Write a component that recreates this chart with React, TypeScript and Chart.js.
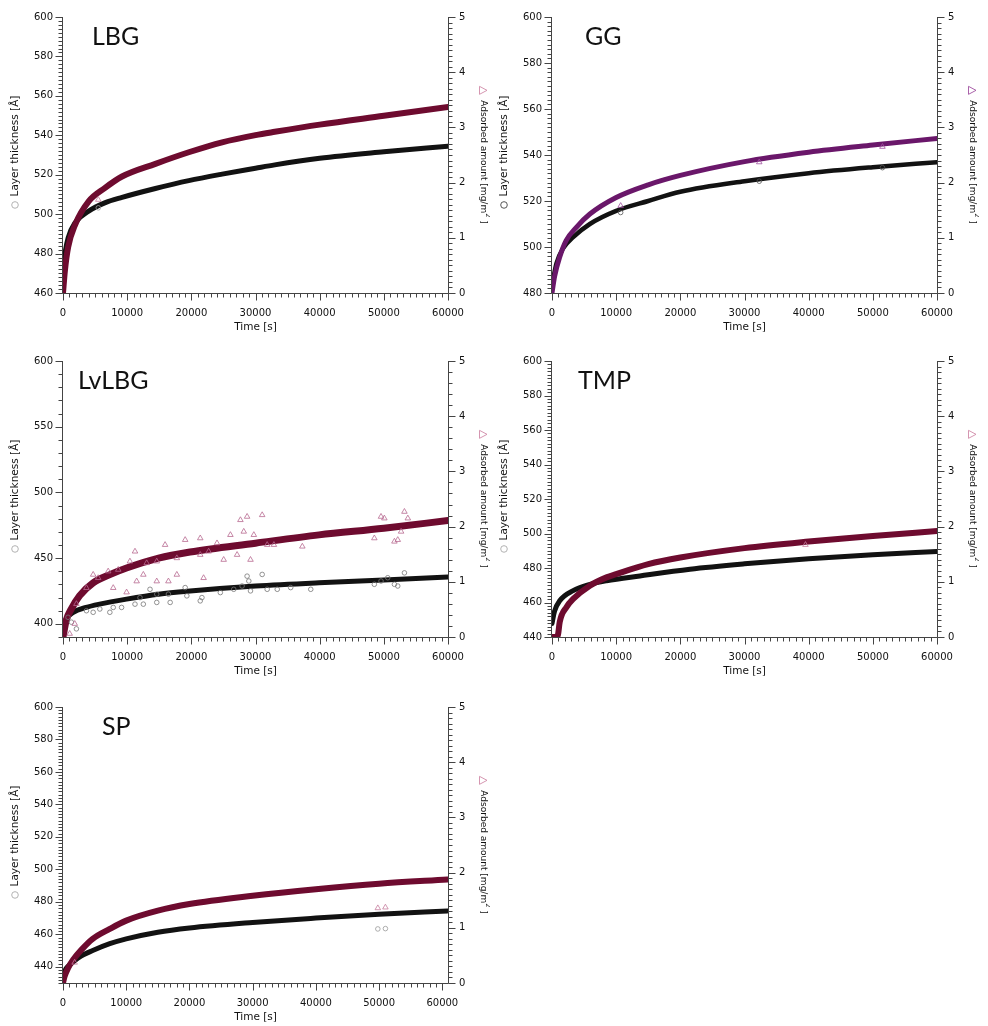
import React, { useEffect, useRef } from "react";
import { Chart, registerables } from "chart.js";
Chart.register(...registerables);

const timeTickLabels = [0, 10000, 20000, 30000, 40000, 50000, 60000];

// ---------- LBG ----------
const lbgThickTime = [0, 300, 800, 1900, 4000, 6500, 9200, 14400, 19600, 24800, 30000, 33000, 40000, 50000, 60000];
const lbgThickness = [470.7, 479.8, 488, 495.7, 501.5, 505.7, 508.5, 513, 517, 520.3, 523.3, 525, 528.3, 531.6, 534.5];
const lbgAdsTime = [0, 300, 800, 1900, 4000, 6500, 9200, 14400, 19600, 24800, 30000, 33000, 40000, 50000, 60000];
const lbgAdsorbed = [0, 0.41, 0.83, 1.24, 1.66, 1.9, 2.11, 2.34, 2.55, 2.73, 2.86, 2.92, 3.05, 3.21, 3.37];
const lbgCircTime = [5500];
const lbgCircThick = [503.2];
const lbgTriTime = [5500];
const lbgTriAds = [1.69];

// ---------- GG ----------
const ggThickTime = [0, 700, 1700, 3300, 5900, 10000, 15000, 20000, 30000, 40000, 50000, 60000];
const ggThickness = [483.6, 492.9, 499.3, 504.3, 510, 515.7, 520, 524, 528.6, 532.1, 534.7, 536.9];
const ggAdsTime = [0, 400, 1200, 2200, 3800, 5900, 10000, 15000, 20000, 30000, 40000, 50000, 60000];
const ggAdsorbed = [0, 0.3, 0.65, 0.95, 1.19, 1.43, 1.73, 1.96, 2.13, 2.38, 2.55, 2.68, 2.8];
const ggCircTime = [10700, 32300, 51500];
const ggCircThick = [515, 528.6, 534.5];
const ggTriTime = [10700, 32300, 51500];
const ggTriAds = [1.58, 2.37, 2.65];

// ---------- LvLBG ----------
const lvThickTime = [0, 500, 1600, 3600, 5700, 9900, 14900, 19800, 30000, 39900, 50000, 60000];
const lvThickness = [397.5, 403.8, 408.8, 412.5, 415, 418.8, 422.6, 425, 428.8, 431.3, 433.3, 435.6];
const lvAdsTime = [0, 500, 1300, 2600, 4700, 7300, 9900, 14900, 19800, 30000, 39900, 50000, 60000];
const lvAdsorbed = [0, 0.3, 0.51, 0.75, 0.98, 1.13, 1.25, 1.43, 1.54, 1.7, 1.85, 1.97, 2.11];
const lvTriTime = [4700, 5480, 7040, 8610, 11220, 10430, 12520, 14610, 15910, 17740, 19040, 21390, 21390, 22700, 24000, 26090, 27650, 28690, 31040, 28170, 29740, 31820, 25040, 27130, 29220, 32870, 37300, 49560, 50080, 48520, 52170, 52690, 53210, 53740, 51650, 14610, 13040, 11480, 7830, 3650, 2090, 1040, 1830, 21910, 17740, 16430, 9910];
const lvTriAds = [1.13, 1.07, 1.19, 1.22, 1.55, 1.37, 1.13, 1.01, 1.67, 1.43, 1.76, 1.79, 1.49, 1.55, 1.7, 1.85, 2.12, 2.18, 2.21, 1.91, 1.85, 1.67, 1.4, 1.49, 1.4, 1.67, 1.64, 2.18, 2.15, 1.79, 1.76, 1.91, 2.27, 2.15, 1.73, 1.37, 1.34, 1.01, 0.89, 0.89, 0.6, 0.06, 0.24, 1.07, 1.13, 1.01, 0.81];
const lvCircTime = [2090, 3650, 5740, 7830, 9130, 11220, 12520, 14610, 16700, 16430, 19040, 19300, 21390, 21650, 24520, 26610, 27910, 28690, 28960, 31040, 31820, 29220, 33390, 35480, 38610, 48520, 49560, 51650, 53210, 52170, 50610, 14610, 13560, 12000, 7300, 4700, 780, 1300];
const lvCircThick = [396.2, 410, 411.3, 412.5, 412.5, 415, 415, 416.3, 416.3, 422.6, 427.6, 421.3, 417.5, 420, 423.8, 426.3, 428.8, 436.3, 432.6, 437.6, 426.3, 425.1, 426.3, 427.6, 426.3, 430.1, 432.6, 430.1, 438.8, 428.8, 435.1, 422.6, 426.3, 420, 408.8, 408.8, 405, 401.3];

// ---------- TMP ----------
const tmpThickTime = [0, 400, 1200, 3300, 5900, 8500, 13700, 21500, 30000, 40000, 50000, 60000];
const tmpThickness = [447.8, 455, 461, 466.9, 470.5, 472.6, 475.4, 479.3, 482.4, 485.4, 487.7, 489.6];
const tmpAdsTime = [0, 700, 950, 1200, 2250, 3300, 5900, 8500, 10000, 15000, 20000, 30000, 40000, 50000, 60000];
const tmpAdsorbed = [0, 0, 0.05, 0.27, 0.54, 0.69, 0.93, 1.08, 1.14, 1.32, 1.44, 1.61, 1.73, 1.83, 1.92];
const tmpCircTime: number[] = [];
const tmpCircThick: number[] = [];
const tmpTriTime = [39500];
const tmpTriAds = [1.67];

// ---------- SP ----------
const spThickTime = [0, 500, 1300, 2600, 4700, 7400, 10000, 15000, 20000, 30000, 40000, 50000, 60800];
const spThickness = [435, 439, 442, 446, 450, 454.2, 457.2, 461.3, 463.9, 467.3, 470, 472.4, 474.4];
const spAdsTime = [0, 250, 800, 1600, 2900, 4700, 7400, 10000, 15000, 20000, 30000, 40000, 50000, 60800];
const spAdsorbed = [0, 0.12, 0.27, 0.42, 0.6, 0.8, 0.98, 1.13, 1.31, 1.43, 1.58, 1.7, 1.8, 1.875];
const spTriTime = [1840, 49800, 51000];
const spTriAds = [0.37, 1.357, 1.37];
const spCircTime = [49800, 51000];
const spCircThick = [463.3, 463.5];

const panelNames = ["LBG", "GG", "LvLBG", "TMP", "SP"];

type Spec = {
  name: string; left: number; top: number; height: number; titleX: number;
  yMin: number; yMax: number; yMajor: number; yMinor: number; rMinor: number; xMax: number;
  thickT: number[]; thickV: number[]; adsT: number[]; adsV: number[];
  circT: number[]; circV: number[]; triT: number[]; triV: number[];
  band: string; bandW: number; blackW: number; tri: string; circ: string; labelCirc: string; labelTri: string;
};

const MAROON = "#6e0b2f";
const specs: Spec[] = [
  { name: panelNames[0], left: 0, top: 0, height: 340, titleX: 92, yMin: 460, yMax: 600, yMajor: 20, yMinor: 2, rMinor: 0.1, xMax: 60000,
    thickT: lbgThickTime, thickV: lbgThickness, adsT: lbgAdsTime, adsV: lbgAdsorbed, circT: lbgCircTime, circV: lbgCircThick, triT: lbgTriTime, triV: lbgTriAds,
    band: MAROON, bandW: 6, blackW: 5, tri: "#c77e9e", circ: "#999", labelCirc: "#aaa", labelTri: "#d08aa8" },
  { name: panelNames[1], left: 489, top: 0, height: 340, titleX: 96, yMin: 480, yMax: 600, yMajor: 20, yMinor: 2, rMinor: 0.1, xMax: 60000,
    thickT: ggThickTime, thickV: ggThickness, adsT: ggAdsTime, adsV: ggAdsorbed, circT: ggCircTime, circV: ggCircThick, triT: ggTriTime, triV: ggTriAds,
    band: "#6a176a", bandW: 5, blackW: 4.5, tri: "#a050a0", circ: "#555", labelCirc: "#444", labelTri: "#a050a0" },
  { name: panelNames[2], left: 0, top: 344, height: 340, titleX: 78, yMin: 390, yMax: 600, yMajor: 50, yMinor: 10, rMinor: 0.2, xMax: 60000,
    thickT: lvThickTime, thickV: lvThickness, adsT: lvAdsTime, adsV: lvAdsorbed, circT: lvCircTime, circV: lvCircThick, triT: lvTriTime, triV: lvTriAds,
    band: MAROON, bandW: 7, blackW: 5, tri: "#b86a90", circ: "#777", labelCirc: "#aaa", labelTri: "#d08aa8" },
  { name: panelNames[3], left: 489, top: 344, height: 340, titleX: 89, yMin: 440, yMax: 600, yMajor: 20, yMinor: 2, rMinor: 0.1, xMax: 60000,
    thickT: tmpThickTime, thickV: tmpThickness, adsT: tmpAdsTime, adsV: tmpAdsorbed, circT: tmpCircTime, circV: tmpCircThick, triT: tmpTriTime, triV: tmpTriAds,
    band: MAROON, bandW: 6, blackW: 5, tri: "#c77e9e", circ: "#999", labelCirc: "#aaa", labelTri: "#d08aa8" },
  { name: panelNames[4], left: 0, top: 690, height: 336, titleX: 102, yMin: 430, yMax: 600, yMajor: 20, yMinor: 2, rMinor: 0.1, xMax: 60900,
    thickT: spThickTime, thickV: spThickness, adsT: spAdsTime, adsV: spAdsorbed, circT: spCircTime, circV: spCircThick, triT: spTriTime, triV: spTriAds,
    band: MAROON, bandW: 6, blackW: 5, tri: "#c77e9e", circ: "#999", labelCirc: "#aaa", labelTri: "#d08aa8" },
];

const FONT = '"DejaVu Sans", sans-serif';
const AX = "#444";

function makePlugin(s: Spec) {
  return {
    id: "customAxes" + s.name,
    afterDraw(chart: any) {
      const ctx: CanvasRenderingContext2D = chart.ctx;
      const a = chart.chartArea;
      const sx = chart.scales.x, sl = chart.scales.yL, sr = chart.scales.yR;
      ctx.save();
      ctx.strokeStyle = AX;
      ctx.lineWidth = 1;
      const L = Math.round(a.left) - 0.5, R = Math.round(a.right) + 0.5, B = Math.round(a.bottom) + 0.5, T = Math.round(a.top);
      ctx.beginPath();
      ctx.moveTo(L, T); ctx.lineTo(L, B); ctx.lineTo(R, B); ctx.lineTo(R, T);
      ctx.stroke();
      const drawTicks = (scale: any, minor: number, major: number, kind: string) => {
        const n0 = Math.ceil(scale.min / minor - 1e-9), n1 = Math.floor(scale.max / minor + 1e-9);
        ctx.beginPath();
        for (let n = n0; n <= n1; n++) {
          const v = n * minor;
          const isMajor = Math.abs(v / major - Math.round(v / major)) < 1e-6;
          const len = isMajor ? 7 : 4;
          const p = Math.round(scale.getPixelForValue(v)) + 0.5;
          if (kind === "x") { ctx.moveTo(p, B); ctx.lineTo(p, B + len); }
          else if (kind === "l") { ctx.moveTo(L, p); ctx.lineTo(L - len, p); }
          else { ctx.moveTo(R, p); ctx.lineTo(R + len, p); }
        }
        ctx.stroke();
      };
      drawTicks(sx, 1000, 10000, "x");
      drawTicks(sl, s.yMinor, s.yMajor, "l");
      drawTicks(sr, s.rMinor, 1, "r");

      ctx.fillStyle = "#111";
      const f = "10.5px " + FONT;
      ctx.font = f;
      ctx.textAlign = "center";
      ctx.textBaseline = "middle";
      ctx.fillText("Time [s]", (a.left + a.right) / 2, 327);

      const cy = (a.top + a.bottom) / 2;
      ctx.save();
      ctx.translate(15, cy - 3);
      ctx.rotate(-Math.PI / 2);
      const lt = "Layer thickness [Å]";
      const lw = ctx.measureText(lt).width;
      const cw = 7, gap = 5;
      const tot = cw + gap + lw;
      const x0 = -tot / 2;
      ctx.strokeStyle = s.labelCirc;
      ctx.lineWidth = 0.9;
      ctx.beginPath();
      ctx.arc(x0 + cw / 2, 0, 3.3, 0, Math.PI * 2);
      ctx.stroke();
      ctx.textAlign = "left";
      ctx.fillText(lt, x0 + cw + gap, 0);
      ctx.restore();

      ctx.save();
      ctx.translate(483, cy);
      ctx.rotate(Math.PI / 2);
      const fr = "9px " + FONT;
      ctx.font = fr;
      const m1 = "Adsorbed amount [mg/m";
      const w1 = ctx.measureText(m1).width;
      const small = "6.5px " + FONT;
      ctx.font = small;
      const w2 = ctx.measureText("2").width;
      ctx.font = fr;
      const w3 = ctx.measureText(" ]").width;
      const tw = 8, g2 = 6;
      const tot2 = tw + g2 + w1 + w2 + w3;
      const r0 = -tot2 / 2;
      ctx.strokeStyle = s.labelTri;
      ctx.lineWidth = 0.9;
      ctx.beginPath();
      ctx.moveTo(r0, 3.5); ctx.lineTo(r0 + tw, 3.5); ctx.lineTo(r0 + tw / 2, -4); ctx.closePath();
      ctx.stroke();
      ctx.textAlign = "left";
      ctx.textBaseline = "middle";
      ctx.fillText(m1, r0 + tw + g2, 0);
      ctx.font = small;
      ctx.fillText("2", r0 + tw + g2 + w1, -5);
      ctx.font = fr;
      ctx.fillText(" ]", r0 + tw + g2 + w1 + w2, 0);
      ctx.restore();

      ctx.font = '25px Lato, "Noto Sans", sans-serif';
      ctx.textAlign = "left";
      ctx.textBaseline = "alphabetic";
      ctx.fillStyle = "#111";
      ctx.fillText(s.name, s.titleX, 45);
      ctx.restore();
    },
  };
}

const pts = (t: number[], v: number[]) => t.map((x, i) => ({ x, y: v[i] }));

function Panel({ s }: { s: Spec }) {
  const ref = useRef<HTMLCanvasElement>(null);
  useEffect(() => {
    const tickFont = { family: FONT, size: 10 };
    const chart = new Chart(ref.current as HTMLCanvasElement, {
      type: "scatter",
      data: {
        datasets: [
          { data: pts(s.triT, s.triV), yAxisID: "yR", pointStyle: "triangle", pointRadius: 3.2, borderColor: s.tri, backgroundColor: "rgba(0,0,0,0)", pointBorderWidth: 0.8, order: 0 } as any,
          { data: pts(s.circT, s.circV), yAxisID: "yL", pointStyle: "circle", pointRadius: 2.3, borderColor: s.circ, backgroundColor: "rgba(0,0,0,0)", pointBorderWidth: 0.8, order: 0 } as any,
          { data: pts(s.adsT, s.adsV), yAxisID: "yR", showLine: true, borderColor: s.band, borderWidth: s.bandW, pointRadius: 0, cubicInterpolationMode: "monotone", borderCapStyle: "round", borderJoinStyle: "round", order: 1 } as any,
          { data: pts(s.thickT, s.thickV), yAxisID: "yL", showLine: true, borderColor: "#121212", borderWidth: s.blackW, pointRadius: 0, cubicInterpolationMode: "monotone", borderCapStyle: "round", borderJoinStyle: "round", order: 2 } as any,
        ],
      },
      options: {
        animation: false,
        responsive: false,
        devicePixelRatio: 1,
        events: [],
        layout: { padding: { top: 13, left: 0, right: 0, bottom: 0 } },
        plugins: { legend: { display: false }, tooltip: { enabled: false } },
        scales: {
          x: {
            type: "linear", min: 0, max: s.xMax,
            grid: { display: false, drawTicks: false }, border: { display: false },
            ticks: { autoSkip: false, maxRotation: 0, padding: 14, font: tickFont, color: "#111", callback: (v: any) => String(v) },
            afterBuildTicks: (sc: any) => { sc.ticks = timeTickLabels.map((v) => ({ value: v })); },
            afterFit: (sc: any) => { sc.height = s.height - 293; },
          },
          yL: {
            type: "linear", position: "left", min: s.yMin, max: s.yMax,
            grid: { display: false, drawTicks: false }, border: { display: false },
            ticks: { stepSize: s.yMajor, includeBounds: false, padding: 10, font: tickFont, color: "#111", callback: (v: any) => String(v) },
            afterFit: (sc: any) => { sc.width = 63; },
          },
          yR: {
            type: "linear", position: "right", min: 0, max: 5,
            grid: { display: false, drawTicks: false }, border: { display: false },
            ticks: { stepSize: 1, padding: 11, font: tickFont, color: "#111", callback: (v: any) => String(v) },
            afterFit: (sc: any) => { sc.width = 42; },
          },
        },
      } as any,
      plugins: [makePlugin(s)],
    });
    return () => chart.destroy();
  }, []);
  return (
    <canvas
      ref={ref}
      width={490}
      height={s.height}
      style={{ position: "absolute", left: s.left, top: s.top, width: 490, height: s.height, display: "block" }}
    />
  );
}

export default function App() {
  return (
    <div style={{ position: "fixed", left: 0, top: 0, width: 988, height: 1026, background: "#fff" }}>
      {specs.map((s) => (
        <Panel key={s.name} s={s} />
      ))}
    </div>
  );
}
